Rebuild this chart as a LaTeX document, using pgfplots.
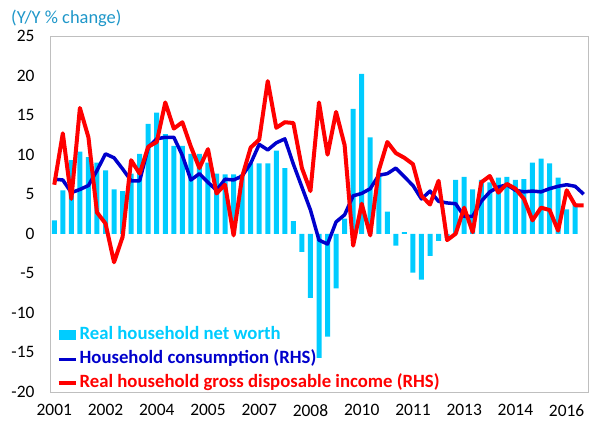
\documentclass[border=0pt]{standalone}
\usepackage{fontspec}
\setmainfont{Carlito}
\usepackage{pgfplots}
\pgfplotsset{compat=1.18}
\definecolor{nw}{RGB}{0,204,255}
\definecolor{hc}{RGB}{0,0,204}
\definecolor{hi}{RGB}{255,0,0}
\definecolor{sub}{RGB}{31,151,201}
\definecolor{frame}{RGB}{191,191,191}
\begin{document}
\begin{tikzpicture}
\path[use as bounding box] (0bp,0bp) rectangle (594bp,424bp);
\node[anchor=base west, text=sub, inner sep=0pt, font=\fontsize{18.5}{21}\selectfont] at (11bp,400bp) {(Y/Y \% change)};
\begin{axis}[
  at={(50bp,32bp)}, anchor=south west,
  scale only axis, width=538bp, height=356bp,
  xmin=-0.5, xmax=62.5, ymin=-20, ymax=25,
  ytick={-20,-15,...,25},
  xtick={0,6,...,60},
  xticklabels={2001,2002,2004,2005,2007,2008,2010,2011,2013,2014,2016},
  major tick length=0pt,
  axis line style={draw=frame, line width=1bp},
  tick label style={font=\fontsize{17.5}{20}\selectfont},
  /pgf/number format/assume math mode=true,
  yticklabel style={xshift=-12bp},
  xticklabel style={yshift=-9bp},
  legend style={at={(0.012,-0.006)}, anchor=south west, draw=none, fill=none,
    font=\bfseries\fontsize{18.8}{21}\selectfont, inner sep=0pt, row sep=3bp,
    nodes={inner sep=2bp, text height=13bp, text depth=4bp}},
  legend cell align=left,
]
\addplot[ybar, bar width=5bp, fill=nw, draw=none,
  legend image code/.code={\fill[nw] (0bp,-5bp) rectangle (17bp,5bp);}]
coordinates {
(0,1.7)(1,5.5)(2,9.3)(3,10.4)(4,9.7)(5,9.0)(6,8.0)(7,5.6)(8,5.4)(9,7.6)
(10,10.1)(11,13.9)(12,15.3)(13,12.6)(14,11.1)(15,11.1)(16,10.1)(17,10.1)(18,9.0)(19,7.6)
(20,7.5)(21,7.5)(22,7.5)(23,8.9)(24,8.9)(25,8.9)(26,10.5)(27,8.3)(28,1.6)(29,-2.3)
(30,-8.1)(31,-15.7)(32,-13.0)(33,-6.9)(34,1.9)(35,15.8)(36,20.2)(37,12.2)(38,7.6)(39,2.8)
(40,-1.5)(41,0.2)(42,-4.9)(43,-5.8)(44,-2.8)(45,-0.9)(46,-0.5)(47,6.8)(48,7.2)(49,5.6)
(50,6.8)(51,6.5)(52,7.1)(53,7.2)(54,6.8)(55,6.9)(56,9.0)(57,9.5)(58,8.9)(59,7.1)
(60,3.1)(61,3.8)
};
\addlegendentry{\textcolor{nw}{Real household net worth}}
\addplot[hc, line width=3.5bp, no markers, line join=round,
  legend image code/.code={\draw[hc, line width=3.5bp] (0bp,0bp) -- (17bp,0bp);}]
coordinates {
(0,6.9)(1,6.8)(2,5.2)(3,5.6)(4,6.1)(5,8.0)(6,10.1)(7,9.6)(8,8.2)(9,6.7)
(10,6.7)(11,10.9)(12,12.0)(13,12.2)(14,12.2)(15,9.9)(16,6.8)(17,7.6)(18,6.5)(19,5.5)
(20,6.9)(21,6.8)(22,7.3)(23,8.9)(24,11.3)(25,10.6)(26,11.5)(27,12.0)(28,8.8)(29,5.9)
(30,3.0)(31,-0.8)(32,-1.3)(33,1.5)(34,2.4)(35,4.8)(36,5.1)(37,5.7)(38,7.4)(39,7.6)
(40,8.3)(41,7.2)(42,6.1)(43,4.4)(44,5.4)(45,4.1)(46,3.9)(47,3.8)(48,2.2)(49,2.2)
(50,4.1)(51,5.3)(52,5.9)(53,6.2)(54,5.5)(55,5.3)(56,5.4)(57,5.3)(58,5.7)(59,6.0)
(60,6.2)(61,6.0)(62,5.0)
};
\addlegendentry{\textcolor{hc}{Household consumption (RHS)}}
\addplot[hi, line width=4bp, no markers, line join=round,
  legend image code/.code={\draw[hi, line width=4bp] (0bp,0bp) -- (17bp,0bp);}]
coordinates {
(0,6.2)(1,12.7)(2,4.4)(3,15.9)(4,12.2)(5,2.7)(6,1.3)(7,-3.6)(8,-0.4)(9,9.3)
(10,7.6)(11,11.0)(12,11.6)(13,16.6)(14,13.3)(15,14.1)(16,11.0)(17,8.3)(18,10.7)(19,5.1)
(20,6.2)(21,-0.2)(22,7.2)(23,10.9)(24,11.9)(25,19.3)(26,13.4)(27,14.1)(28,14.0)(29,8.3)
(30,5.4)(31,16.6)(32,10.0)(33,15.4)(34,11.2)(35,-1.5)(36,3.8)(37,-0.2)(38,8.0)(39,11.6)
(40,10.2)(41,9.6)(42,8.8)(43,4.8)(44,3.7)(45,6.7)(46,-0.8)(47,0.0)(48,3.3)(49,0.2)
(50,6.5)(51,7.3)(52,5.2)(53,6.3)(54,5.7)(55,4.4)(56,1.7)(57,3.3)(58,3.0)(59,0.4)
(60,5.5)(61,3.6)(62,3.6)
};
\addlegendentry{\textcolor{hi}{Real household gross disposable income (RHS)}}
\end{axis}
\end{tikzpicture}
\end{document}
